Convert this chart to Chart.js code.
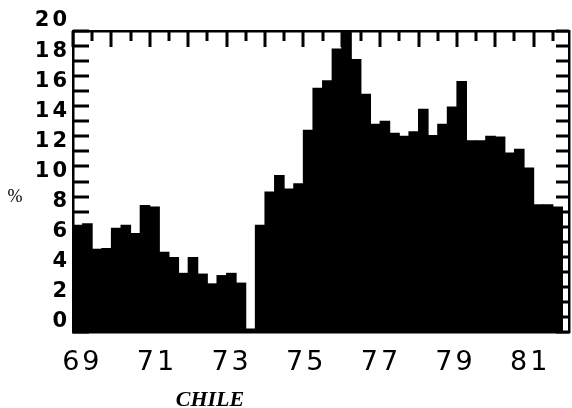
<!DOCTYPE html>
<html lang="en">
<head>
<meta charset="UTF-8">
<title>Chile</title>
<script src="https://cdn.jsdelivr.net/npm/chart.js"></script>
<style>
  body { margin: 0; background: #fff; }
  canvas { display: block; }
</style>
</head>
<body>
<canvas id="chart" width="572" height="408"></canvas>
<script>
// quarterly rates in %, first bar is 1969 Q1, last is 1981 Q3
const firstYear = 1969;
const values = [
  7.1, 7.2, 5.5, 5.55,      // 69
  6.9, 7.1, 6.55, 8.4,      // 70
  8.3, 5.3, 4.95, 3.9,      // 71
  4.95, 3.85, 3.2, 3.75,    // 72
  3.9, 3.25, 0.2, 7.1,      // 73
  9.3, 10.4, 9.5, 9.85,     // 74
  13.4, 16.2, 16.7, 18.8,   // 75
  20, 18.1, 15.8, 13.8,     // 76
  14.0, 13.2, 13.0, 13.3,   // 77
  14.8, 13.05, 13.8, 14.95, // 78
  16.65, 12.7, 12.7, 13.0,  // 79
  12.95, 11.9, 12.15, 10.9, // 80
  8.45, 8.45, 8.3           // 81
];
const yearLabels = [69, 71, 73, 75, 77, 79, 81];
const countryName = 'CHILE';
const unitLabel = '%';

const black = '#000';
const points = values.map((v, i) => ({ x: firstYear + i / 4 + 0.125, y: v }));

// tick marks point into the frame
function drawInwardTicks(c) {
  const ctx = c.ctx;
  const area = c.chartArea;
  const top = c.scales.x2, left = c.scales.y, right = c.scales.y2;
  ctx.save();
  ctx.fillStyle = black;
  for (let v = 1969; v <= 1981.5; v += 0.5) {
    const px = Math.round(top.getPixelForValue(v));
    const len = Number.isInteger(v) ? 16 : 10;   // years long, half years short
    ctx.fillRect(px - 1.5, area.top, 3, len);
  }
  for (let v = 0; v <= 20; v += 1) {
    const py = Math.round(left.getPixelForValue(v));
    ctx.fillRect(area.left, py - 1.5, 16, 3);
    const qy = Math.round(right.getPixelForValue(v));
    ctx.fillRect(area.right - 13, qy - 1.5, 13, 3);
  }
  ctx.restore();
}

// plotter style text: wide letters, plus the two loose captions
const plotterText = {
  id: 'plotterText',
  beforeDraw(c) {
    c.ctx.letterSpacing = '3px';
  },
  afterDraw(c) {
    drawInwardTicks(c);
    const ctx = c.ctx;
    ctx.save();
    ctx.letterSpacing = '0px';
    ctx.fillStyle = black;
    ctx.textAlign = 'center';
    ctx.textBaseline = 'middle';
    ctx.font = 'italic bold 22px "Liberation Serif"';
    ctx.fillText(countryName, 210, 400);
    ctx.font = '18px "Liberation Serif"';
    ctx.fillText(unitLabel, 15, 197);
    ctx.restore();
  }
};

const frame = { color: black, width: 2.5 };
const noGrid = { display: false, drawTicks: false };

new Chart(document.getElementById('chart').getContext('2d'), {
  type: 'bar',
  data: {
    datasets: [{
      data: points,
      backgroundColor: black,
      borderWidth: 0,
      barPercentage: 1,
      categoryPercentage: 1,
      inflateAmount: 0.5,
      grouped: false,
      xAxisID: 'x',
      yAxisID: 'y'
    }]
  },
  options: {
    responsive: false,
    animation: false,
    layout: { padding: 0 },
    plugins: { legend: { display: false }, tooltip: { enabled: false } },
    scales: {
      x: {
        type: 'linear', position: 'bottom', weight: 0, offset: false,
        min: 1969, max: 1981.92,
        ticks: { display: false, autoSkip: false },
        grid: noGrid,
        border: frame,
        afterFit: s => { s.height = 0; }
      },
      xl: {
        type: 'linear', position: 'bottom', weight: 1, offset: false,
        min: 68.75, max: 82.04,
        afterBuildTicks: s => { s.ticks = yearLabels.map(v => ({ value: v })); },
        ticks: {
          autoSkip: false, maxRotation: 0, padding: 15, color: black,
          font: { family: 'DejaVu Sans', size: 27 },
          callback: v => String(v)
        },
        grid: noGrid,
        border: { display: false },
        afterFit: s => { s.height = 76; }
      },
      x2: {
        type: 'linear', position: 'top', offset: false,
        min: 1969, max: 1981.92,
        ticks: { display: false, autoSkip: false },
        grid: noGrid,
        border: frame,
        afterFit: s => { s.height = 31; }
      },
      y: {
        type: 'linear', position: 'left',
        min: 0, max: 20,
        ticks: {
          stepSize: 1, autoSkip: false, padding: 3, labelOffset: -10, color: black,
          font: { family: 'DejaVu Sans', size: 21, weight: 'bold' },
          callback: v => (v % 2 === 0 ? String(v) : '')
        },
        grid: noGrid,
        border: frame,
        afterFit: s => { s.width = 73; }
      },
      y2: {
        type: 'linear', position: 'right',
        min: 0, max: 20,
        ticks: { display: false, autoSkip: false },
        grid: noGrid,
        border: frame,
        afterFit: s => { s.width = 3; }
      }
    }
  },
  plugins: [plotterText]
});
</script>
</body>
</html>
